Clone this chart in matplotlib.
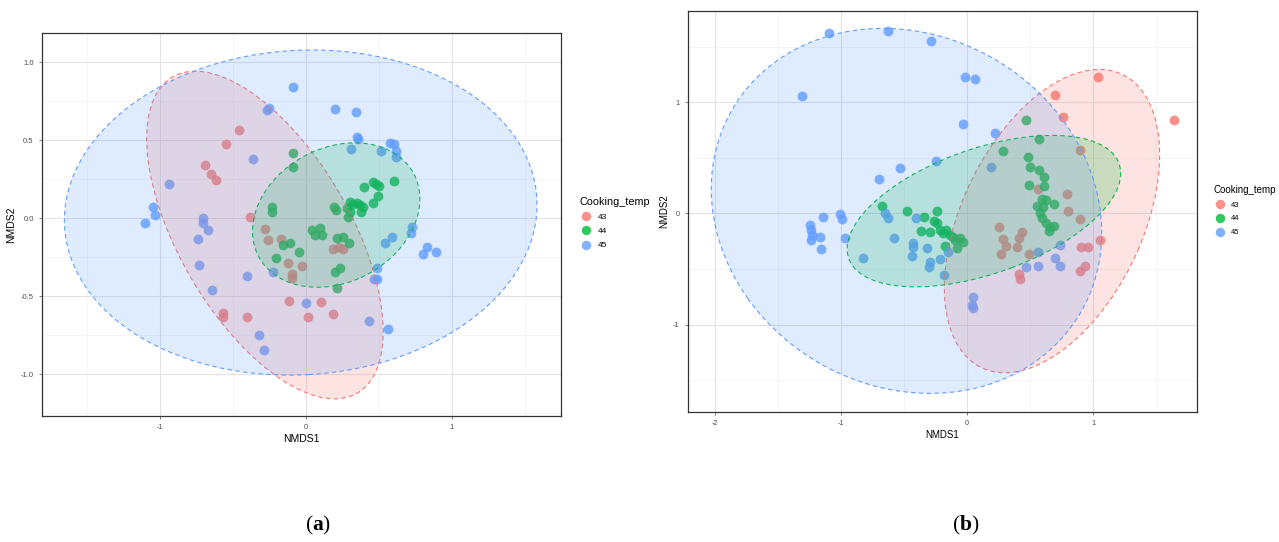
import numpy as np
import matplotlib
matplotlib.use('Agg')
import matplotlib.pyplot as plt
from matplotlib.patches import Ellipse
from matplotlib.lines import Line2D
from matplotlib.colors import to_rgba

plt.rcParams['font.family'] = ['Liberation Sans', 'DejaVu Sans']
plt.rcParams['axes.unicode_minus'] = False
plt.rcParams['mathtext.fontset'] = 'custom'
plt.rcParams['mathtext.rm'] = 'Liberation Serif'
plt.rcParams['mathtext.bf'] = 'Liberation Serif:bold'

groups = ['43', '44', '45']
colors = ['#F8766D', '#00BA38', '#619CFF']

# ---------------- Panel (a) ----------------
a43_x = [-0.459, -0.544, -0.688, -0.651, -0.616, -0.382, -0.279, -0.256, -0.171, -0.123, -0.023, -0.096,
         -0.096, -0.114, 0.105, 0.018, 0.189, -0.566, -0.568, -0.400, 0.189, 0.230, 0.253]
a43_y = [0.564, 0.474, 0.344, 0.284, 0.247, 0.010, -0.069, -0.139, -0.135, -0.285, -0.304, -0.357,
         -0.385, -0.528, -0.538, -0.633, -0.613, -0.609, -0.631, -0.631, -0.197, -0.182, -0.199]
a44_x = [-0.085, -0.089, -0.233, -0.233, 0.196, 0.208, 0.303, 0.324, 0.351, 0.372, 0.393, 0.379,
         0.303, 0.289, 0.282, 0.401, 0.463, 0.482, 0.504, 0.605, 0.497, 0.463, 0.041, 0.098,
         0.064, 0.110, 0.212, 0.258, 0.299, -0.158, -0.108, -0.044, -0.205, 0.201, 0.235, 0.216]
a44_y = [0.417, 0.331, 0.071, 0.042, 0.074, 0.053, 0.105, 0.092, 0.098, 0.085, 0.072, 0.040,
         0.040, 0.008, 0.066, 0.199, 0.231, 0.220, 0.209, 0.241, 0.145, 0.096, -0.075, -0.064,
         -0.107, -0.107, -0.124, -0.118, -0.160, -0.171, -0.160, -0.214, -0.256, -0.342, -0.317, -0.449]
a45_x = [-0.089, -0.265, -0.251, -0.359, -0.934, -1.044, -1.032, -1.099, -0.705, -0.705, -0.667,
         -0.740, -0.733, -0.404, -0.644, -0.226, 0.000, -0.320, -0.288, 0.199, 0.342, 0.349, 0.360,
         0.310, 0.516, 0.577, 0.605, 0.618, 0.618, 0.726, 0.719, 0.589, 0.543, 0.829, 0.801, 0.892,
         0.486, 0.470, 0.490, 0.434, 0.566]
a45_y = [0.840, 0.694, 0.707, 0.378, 0.218, 0.071, 0.021, -0.030, 0.000, -0.028, -0.075,
         -0.131, -0.299, -0.372, -0.460, -0.342, -0.545, -0.746, -0.842, 0.699, 0.681, 0.519, 0.506,
         0.442, 0.431, 0.485, 0.476, 0.433, 0.391, -0.058, -0.092, -0.118, -0.160, -0.182, -0.229,
         -0.214, -0.321, -0.391, -0.391, -0.658, -0.708]
# ellipses (43, 44, 45): centre, full width, full height, angle (deg)
a_ell_cx = [-0.279, 0.209, -0.034]
a_ell_cy = [-0.107, 0.021, 0.037]
a_ell_w = [2.39, 1.19, 3.24]
a_ell_h = [1.15, 0.87, 2.08]
a_ell_ang = [-57, 23, 3]

# ---------------- Panel (b) ----------------
b43_x = [1.037, 0.701, 0.760, 1.640, 0.895, 0.796, 0.565, 0.800, 0.895, 0.258, 0.440, 0.411,
         0.288, 0.310, 0.394, 0.274, 0.494, 1.053, 0.906, 0.958, 0.897, 0.939, 0.415, 0.425]
b43_y = [1.225, 1.063, 0.866, 0.841, 0.572, 0.171, 0.217, 0.023, -0.051, -0.119, -0.171, -0.218,
         -0.234, -0.295, -0.301, -0.362, -0.369, -0.243, -0.302, -0.302, -0.517, -0.472, -0.545, -0.586]
b44_x = [-0.677, -0.479, -0.240, -0.339, -0.260, -0.240, -0.367, -0.294, -0.214, -0.167,
         -0.188, -0.135, -0.109, -0.095, -0.056, -0.034, -0.082, -0.175,
         0.468, 0.574, 0.288, 0.482, 0.500, 0.575, 0.615, 0.609, 0.490, 0.593,
         0.627, 0.693, 0.556, 0.606, 0.579, 0.593, 0.627, 0.659, 0.693, 0.653]
b44_y = [0.066, 0.023, 0.023, -0.036, -0.067, -0.090, -0.157, -0.166, -0.150, -0.150,
         -0.180, -0.195, -0.211, -0.241, -0.225, -0.256, -0.315, -0.295,
         0.838, 0.669, 0.566, 0.510, 0.422, 0.395, 0.324, 0.250, 0.258, 0.126,
         0.120, 0.081, 0.068, 0.059, 0.000, -0.045, -0.090, -0.121, -0.114, -0.159]
b45_x = [-1.093, -0.625, -0.286, -0.016, 0.063, -1.304, -0.029, -0.246, -0.532, -0.698, -1.008,
         -0.994, -1.140, -1.246, -1.233, -1.225, -1.233, -1.167, -1.159, -0.968, -0.823, -0.651,
         -0.625, -0.577, -0.405, -0.426, -0.431, -0.434, -0.320, -0.294, -0.299, -0.214, -0.183,
         -0.148, 0.050, 0.037, 0.050, 0.222, 0.190, 0.566, 0.738, 0.468, 0.561, 0.698, 0.738]
b45_y = [1.622, 1.645, 1.555, 1.225, 1.207, 1.059, 0.807, 0.474, 0.405, 0.309, -0.006,
         -0.054, -0.031, -0.105, -0.150, -0.195, -0.241, -0.211, -0.322, -0.220, -0.400, 0.000,
         -0.040, -0.223, -0.040, -0.265, -0.301, -0.382, -0.310, -0.436, -0.486, -0.414, -0.550,
         -0.346, -0.751, -0.826, -0.850, 0.721, 0.420, -0.346, -0.286, -0.481, -0.472, -0.400, -0.475]
b_ell_cx = [0.675, 0.135, -0.479]
b_ell_cy = [-0.069, 0.021, 0.023]
b_ell_w = [2.87, 2.31, 3.40]
b_ell_h = [1.46, 1.11, 2.97]
b_ell_ang = [69, 23, -58]

a_xticks = [-1, 0, 1]
a_yticks = [-1.0, -0.5, 0.0, 0.5, 1.0]
a_xticklabels = ['-1', '0', '1']
a_yticklabels = ['-1.0', '-0.5', '0.0', '0.5', '1.0']
b_xticks = [-2, -1, 0, 1]
b_yticks = [-1, 0, 1]
b_xticklabels = ['-2', '-1', '0', '1']
b_yticklabels = ['-1', '0', '1']

W, H = 1279, 542
fig = plt.figure(figsize=(W / 100, H / 100), dpi=100)


def px_axes(l, t, r, b):
    return fig.add_axes([l / W, 1 - b / H, (r - l) / W, (b - t) / H])


def draw_panel(ax, pts, ell, xlim, ylim, xticks, xtl, yticks, ytl, xminor, yminor,
               tick_fs, title_fs, leg_pos, leg_title_fs, leg_fs, leg_sp):
    ax.set_xlim(*xlim)
    ax.set_ylim(*ylim)
    for v in xminor:
        ax.axvline(v, color='#F2F2F2', lw=0.5, zorder=0)
    for v in yminor:
        ax.axhline(v, color='#F2F2F2', lw=0.5, zorder=0)
    for v in xticks:
        ax.axvline(v, color='#E3E3E3', lw=0.8, zorder=0)
    for v in yticks:
        ax.axhline(v, color='#E3E3E3', lw=0.8, zorder=0)
    for (xs, ys), c in zip(pts, colors):
        ax.scatter(xs, ys, s=50, color=c, alpha=0.8, linewidths=0, zorder=2)
    cx, cy, w, h, ang = ell
    for i, c in enumerate(colors):
        e = Ellipse((cx[i], cy[i]), w[i], h[i], angle=ang[i],
                    facecolor=to_rgba(c, 0.2), edgecolor=c, lw=0.8,
                    linestyle=(0, (4, 3)), zorder=3)
        ax.add_patch(e)
    ax.set_xticks(xticks)
    ax.set_xticklabels(xtl)
    ax.set_yticks(yticks)
    ax.set_yticklabels(ytl)
    ax.tick_params(labelsize=tick_fs, colors='#4D4D4D', length=2.5, width=0.5,
                   labelcolor='#4D4D4D')
    for s in ax.spines.values():
        s.set_color('#333333')
        s.set_linewidth(0.9)
    ax.set_xlabel('NMDS1', fontsize=title_fs, labelpad=2)
    ax.set_ylabel('NMDS2', fontsize=title_fs, labelpad=3)
    handles = [Line2D([], [], marker='o', linestyle='', markersize=6.8, color=c, alpha=0.8,
                      markeredgewidth=0) for c in colors]
    leg = fig.legend(handles, groups, title='Cooking_temp', loc='upper left',
                     bbox_to_anchor=(leg_pos[0] / W, 1 - leg_pos[1] / H),
                     frameon=False, fontsize=leg_fs, title_fontsize=leg_title_fs,
                     handletextpad=0.6, labelspacing=leg_sp, borderpad=0,
                     alignment='left', handlelength=1.6)
    return leg


axa = px_axes(42, 33, 561, 416)
draw_panel(axa, [(a43_x, a43_y), (a44_x, a44_y), (a45_x, a45_y)],
           (a_ell_cx, a_ell_cy, a_ell_w, a_ell_h, a_ell_ang),
           (-1.806, 1.749), (-1.267, 1.188), a_xticks, a_xticklabels, a_yticks, a_yticklabels,
           [-1.5, -0.5, 0.5, 1.5], [-1.25, -0.75, -0.25, 0.25, 0.75],
           5.5, 7.5, (575, 193), 7.8, 6, 0.75)

axb = px_axes(688, 11, 1197, 412)
draw_panel(axb, [(b43_x, b43_y), (b44_x, b44_y), (b45_x, b45_y)],
           (b_ell_cx, b_ell_cy, b_ell_w, b_ell_h, b_ell_ang),
           (-2.212, 1.825), (-1.787, 1.822), b_xticks, b_xticklabels, b_yticks, b_yticklabels,
           [-1.5, -0.5, 0.5, 1.5], [-1.5, -0.5, 0.5, 1.5],
           5.2, 7, (1210, 181), 7, 5.5, 0.85)

fig.text(318 / W, 1 - 525 / H, r'($\mathbf{a}$)', ha='center', va='center', fontsize=15.5,
         family='Liberation Serif')
fig.text(966 / W, 1 - 525 / H, r'($\mathbf{b}$)', ha='center', va='center', fontsize=15.5,
         family='Liberation Serif')

fig.savefig('out.png', dpi=100, facecolor='white')
